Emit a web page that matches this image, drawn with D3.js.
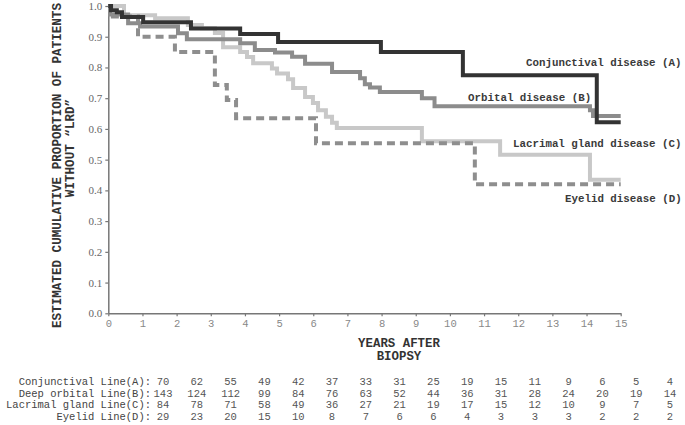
<!DOCTYPE html>
<html>
<head>
<meta charset="utf-8">
<script src="https://cdn.jsdelivr.net/npm/d3@7"></script>
<style>
  html, body { margin: 0; padding: 0; background: #fff; }
  svg { display: block; }
</style>
</head>
<body>
<svg id="chart" width="685" height="425"></svg>
<script>
// ---------------- DATA ----------------
const timesA = [0, 0.08, 0.25, 0.40, 1.02, 2.42, 3.86, 4.97, 7.98, 10.38, 14.30];
const survA  = [1.0, 0.986, 0.980, 0.964, 0.947, 0.927, 0.909, 0.883, 0.850, 0.775, 0.622];

const timesB = [0, 0.05, 0.58, 0.93, 2.04, 2.30, 3.86, 4.29, 4.88, 5.38, 5.76, 6.55, 7.37, 7.51, 7.66, 7.95, 9.18, 9.55, 14.10, 14.19];
const survB  = [1.0, 0.972, 0.944, 0.933, 0.911, 0.892, 0.879, 0.857, 0.849, 0.835, 0.812, 0.785, 0.765, 0.745, 0.735, 0.720, 0.700, 0.674, 0.661, 0.642];

const timesC = [0, 0.46, 1.37, 2.33, 2.74, 3.12, 3.36, 3.86, 4.06, 4.24, 4.79, 4.94, 5.26, 5.41, 5.76, 5.99, 6.14, 6.37, 6.55, 6.69, 9.18, 11.47, 14.10];
const survC  = [1.0, 0.970, 0.960, 0.938, 0.928, 0.912, 0.866, 0.850, 0.834, 0.814, 0.797, 0.780, 0.762, 0.733, 0.704, 0.684, 0.661, 0.640, 0.620, 0.603, 0.560, 0.516, 0.435];

const timesD = [0, 0.05, 0.87, 1.95, 3.12, 3.47, 3.74, 6.08, 10.73];
const survD  = [1.0, 0.966, 0.900, 0.850, 0.743, 0.694, 0.635, 0.553, 0.420];

const curveLabels = ["Conjunctival disease (A)", "Orbital disease (B)", "Lacrimal gland disease (C)", "Eyelid disease (D)"];

const xTickValues = [0,1,2,3,4,5,6,7,8,9,10,11,12,13,14,15];
const yTickValues = [0,0.1,0.2,0.3,0.4,0.5,0.6,0.7,0.8,0.9,1.0];

const tableRowLabels = ["Conjunctival Line(A):", "Deep orbital Line(B):", "Lacrimal gland Line(C):", "Eyelid Line(D):"];
const countsA = [70, 62, 55, 49, 42, 37, 33, 31, 25, 19, 15, 11, 9, 6, 5, 4];
const countsB = [143, 124, 112, 99, 84, 76, 63, 52, 44, 36, 31, 28, 24, 20, 19, 14];
const countsC = [84, 78, 71, 58, 49, 36, 27, 21, 19, 17, 15, 12, 10, 9, 7, 5];
const countsD = [29, 23, 20, 15, 10, 8, 7, 6, 6, 4, 3, 3, 3, 2, 2, 2];

const yTitle1 = "ESTIMATED CUMULATIVE PROPORTION OF PATIENTS";
const yTitle2 = "WITHOUT \u201CLRD\u201D";
const xTitle1 = "YEARS AFTER";
const xTitle2 = "BIOPSY";

// ---------------- DRAWING ----------------
const svg = d3.select("#chart");
const mono = "'Liberation Mono', 'Courier New', monospace";
const serif = "'Liberation Serif', 'Times New Roman', serif";

const x = d3.scaleLinear().domain([0, 15]).range([108.3, 620.7]);
const y = d3.scaleLinear().domain([0, 1]).range([313.3, 6]);

// Y axis
const yAxis = svg.append("g")
  .attr("transform", `translate(${x(0)},0)`)
  .call(d3.axisLeft(y).tickValues(yTickValues).tickFormat(d3.format(".1f")).tickSize(3).tickSizeOuter(0));
yAxis.select(".domain").attr("stroke", "#777").attr("stroke-width", 1.5);
yAxis.selectAll(".tick line").attr("stroke", "#777").attr("stroke-width", 1.2);
yAxis.selectAll(".tick text")
  .attr("font-family", serif).attr("font-size", 11).attr("fill", "#666")
  .attr("x", -6);

// X axis
const xAxis = svg.append("g")
  .attr("transform", `translate(0,${y(0)})`)
  .call(d3.axisBottom(x).tickValues(xTickValues).tickFormat(d3.format("d")).tickSize(3).tickSizeOuter(0));
xAxis.select(".domain").attr("stroke", "#777").attr("stroke-width", 1.5);
xAxis.selectAll(".tick line").attr("stroke", "#777").attr("stroke-width", 1.2);
xAxis.selectAll(".tick text")
  .attr("font-family", mono).attr("font-size", 10.5).attr("fill", "#888")
  .attr("y", 6);

// Curves
const series = [
  { t: timesC, s: survC, color: "#c8c8c8", dash: null },
  { t: timesB, s: survB, color: "#8c8c8c", dash: null },
  { t: timesD, s: survD, color: "#8e8e8e", dash: "8,5" },
  { t: timesA, s: survA, color: "#333333", dash: null }
];
const line = d3.line().x(d => x(d[0])).y(d => y(d[1])).curve(d3.curveStepAfter);
series.forEach(se => {
  const pts = se.t.map((t, i) => [t, se.s[i]]);
  pts.push([15, se.s[se.s.length - 1]]);
  svg.append("path")
    .attr("d", line(pts))
    .attr("fill", "none")
    .attr("stroke", se.color)
    .attr("stroke-width", 4)
    .attr("stroke-dasharray", se.dash)
    .attr("stroke-linejoin", "miter");
});

// Curve labels
const labelPos = [[526, 62], [468, 97], [513, 143], [565, 198]];
curveLabels.forEach((lab, i) => {
  svg.append("text")
    .attr("x", labelPos[i][0]).attr("y", labelPos[i][1])
    .attr("dy", "0.35em")
    .attr("font-family", mono).attr("font-size", 10.8).attr("font-weight", "bold")
    .attr("fill", "#3a3a3a")
    .text(lab);
});

// Y title
svg.append("text")
  .attr("transform", "translate(57,165.5) rotate(-90)")
  .attr("text-anchor", "middle").attr("dy", "0.35em")
  .attr("font-family", mono).attr("font-size", 12.6).attr("font-weight", "bold")
  .attr("fill", "#333").text(yTitle1);
svg.append("text")
  .attr("transform", "translate(70,148) rotate(-90)")
  .attr("text-anchor", "middle").attr("dy", "0.35em")
  .attr("font-family", mono).attr("font-size", 12.6).attr("font-weight", "bold")
  .attr("fill", "#333").text(yTitle2);

// X title
svg.append("text")
  .attr("x", 399).attr("y", 343).attr("dy", "0.35em")
  .attr("text-anchor", "middle")
  .attr("font-family", mono).attr("font-size", 12.4).attr("font-weight", "bold")
  .attr("fill", "#333").text(xTitle1);
svg.append("text")
  .attr("x", 399).attr("y", 356).attr("dy", "0.35em")
  .attr("text-anchor", "middle")
  .attr("font-family", mono).attr("font-size", 12.4).attr("font-weight", "bold")
  .attr("fill", "#333").text(xTitle2);

// Number-at-risk table
const colX = d3.scaleLinear().domain([0, 15]).range([163, 670]);
const rowY = d3.scaleLinear().domain([0, 3]).range([381.5, 416]);
const allCounts = [countsA, countsB, countsC, countsD];
tableRowLabels.forEach((lab, r) => {
  svg.append("text")
    .attr("x", 151).attr("y", rowY(r)).attr("dy", "0.35em")
    .attr("text-anchor", "end")
    .attr("font-family", mono).attr("font-size", 10.5)
    .attr("fill", "#444").text(lab);
  svg.append("g").selectAll("text")
    .data(allCounts[r])
    .join("text")
    .attr("x", (d, i) => colX(i)).attr("y", rowY(r)).attr("dy", "0.35em")
    .attr("text-anchor", "middle")
    .attr("font-family", mono).attr("font-size", 10.5)
    .attr("fill", "#555").text(d => d);
});
</script>
</body>
</html>
